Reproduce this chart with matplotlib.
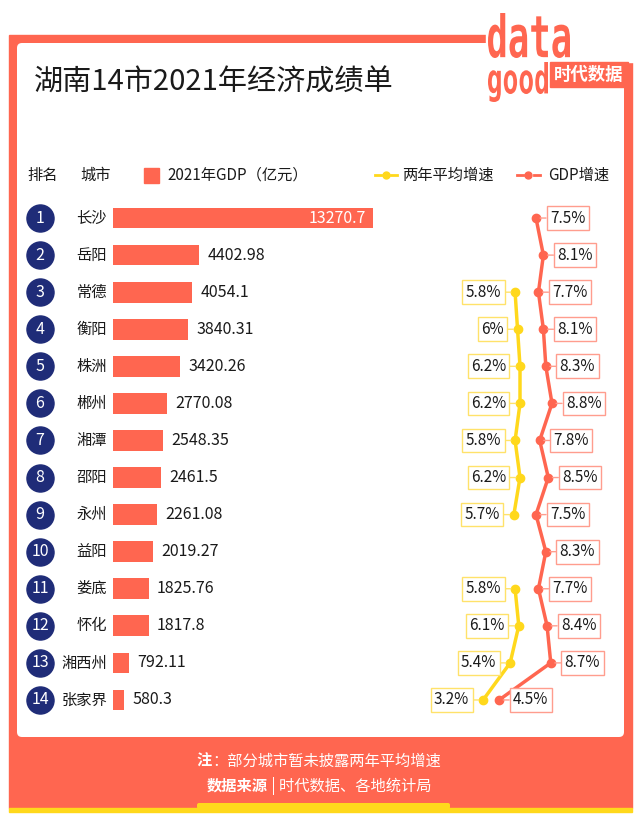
import numpy as np
import matplotlib
matplotlib.use('Agg')
import matplotlib.pyplot as plt
from matplotlib.patches import Rectangle, FancyBboxPatch, PathPatch
from matplotlib.textpath import TextPath
from matplotlib.font_manager import FontProperties
from matplotlib.transforms import Affine2D, blended_transform_factory

plt.rcParams['font.family'] = ['Noto Sans CJK SC', 'DejaVu Sans']

# data
ranks = list(range(1, 15))
cities = ['长沙', '岳阳', '常德', '衡阳', '株洲', '郴州', '湘潭',
          '邵阳', '永州', '益阳', '娄底', '怀化', '湘西州', '张家界']
gdp = [13270.7, 4402.98, 4054.1, 3840.31, 3420.26, 2770.08, 2548.35,
       2461.5, 2261.08, 2019.27, 1825.76, 1817.8, 792.11, 580.3]
gdp_growth = [7.5, 8.1, 7.7, 8.1, 8.3, 8.8, 7.8, 8.5, 7.5, 8.3, 7.7, 8.4, 8.7, 4.5]
avg_growth = [np.nan, np.nan, 5.8, 6.0, 6.2, 6.2, 5.8, 6.2, 5.7, np.nan, 5.8, 6.1, 5.4, 3.2]

ORANGE = '#ff6650'
ORANGE_LIGHT = '#ff9d8e'
YELLOW = '#ffd81c'
YELLOW_LIGHT = '#ffe26a'
NAVY = '#1f2c78'
INK = '#1a1a1a'

W, H = 640, 819
fig = plt.figure(figsize=(W / 100, H / 100), dpi=100)

# base axes in pixel units (y down) for frame and decorations
base = fig.add_axes([0, 0, 1, 1])
base.set_xlim(0, W)
base.set_ylim(H, 0)
base.axis('off')

base.add_patch(Rectangle((9, 35), 623, 773, color=ORANGE, zorder=0))
base.add_patch(FancyBboxPatch((17, 43), 607, 694, boxstyle='round,pad=0,rounding_size=5',
                              fc='white', ec='none', zorder=1))
base.add_patch(Rectangle((9, 808), 623, 4, color=YELLOW, zorder=1))
base.add_patch(FancyBboxPatch((197, 803), 253, 6, boxstyle='round,pad=0,rounding_size=2',
                              fc=YELLOW, ec='none', zorder=1))

# logo
base.add_patch(Rectangle((486, 0), 154, 62, color='white', zorder=2))


def fit_text(s, x0, y0, x1, y1, color):
    tp = TextPath((0, 0), s, size=1, prop=FontProperties(family='DejaVu Sans Mono', weight='bold'))
    ext = tp.get_extents()
    tr = (Affine2D().translate(-ext.x0, -ext.y1)
          .scale((x1 - x0) / ext.width, -(y1 - y0) / ext.height)
          .translate(x0, y0) + base.transData)
    base.add_patch(PathPatch(tp, transform=tr, fc=color, ec='none', zorder=3))


fit_text('data', 488, 13, 570, 58, ORANGE)
fit_text('good', 488, 62, 548, 102, ORANGE)
base.add_patch(Rectangle((550, 62), 78, 25, color=ORANGE, zorder=3))
base.text(589, 74.5, '时代数据', color='white', fontsize=12.5, weight='bold',
          ha='center', va='center', zorder=4)

# title
base.text(34, 83, '湖南14市2021年经济成绩单', fontsize=21, color=INK,
          va='center', zorder=4)

# header row
hy = 175
base.text(27, hy, '排名', fontsize=11, color=INK, va='center', zorder=4)
base.text(80, hy, '城市', fontsize=11, color=INK, va='center', zorder=4)
base.add_patch(Rectangle((144, 168), 15, 15, color=ORANGE, zorder=4))
base.text(167, hy, '2021年GDP（亿元）', fontsize=11, color=INK, va='center', zorder=4)
for (a, b, c), col in [((375, 386, 397), YELLOW), ((517, 528, 540), ORANGE)]:
    base.plot([a, a + 6], [hy, hy], color=col, lw=2, zorder=4)
    base.plot([c - 6, c], [hy, hy], color=col, lw=2, zorder=4)
    base.plot(b, hy, 'o', color=col, ms=5, zorder=4)
base.text(402, hy, '两年平均增速', fontsize=11, color=INK, va='center', zorder=4)
base.text(548, hy, 'GDP增速', fontsize=11, color=INK, va='center', zorder=4)

# footer
base.text(212, 761, '注', fontsize=11, weight='bold', color='white', ha='right', va='center', zorder=4)
base.text(212, 761, '：部分城市暂未披露两年平均增速', fontsize=11, color='white', va='center', zorder=4)
base.text(268, 786, '数据来源', fontsize=11, weight='bold', color='white', ha='right', va='center', zorder=4)
base.text(268, 786, ' | 时代数据、各地统计局', fontsize=11, color='white', va='center', zorder=4)

# bar chart
top, bottom = 199.5, 718.5
ypos = np.arange(len(cities))
ax = fig.add_axes([113 / W, 1 - bottom / H, 320 / W, (bottom - top) / H])
ax.patch.set_alpha(0)
ax.barh(ypos, gdp, height=0.56, color=ORANGE)
ax.set_xlim(0, 320 * 13270.7 / 260)
ax.set_ylim(len(cities) - 0.5, -0.5)
ax.axis('off')

for i, v in enumerate(gdp):
    if i == 0:
        ax.annotate(f'{v:g}', xy=(v, i), xytext=(-5, 0), textcoords='offset points',
                    ha='right', va='center', fontsize=11.5, color='white')
    else:
        ax.annotate(f'{v:g}', xy=(v, i), xytext=(6, 0), textcoords='offset points',
                    ha='left', va='center', fontsize=11.5, color=INK)

# rank circles and city names
trans = blended_transform_factory(base.transData, ax.transData)
base.scatter([40] * len(ranks), ypos, s=380, color=NAVY, transform=trans, zorder=4)
for i, (r, c) in enumerate(zip(ranks, cities)):
    base.text(40, i, str(r), transform=trans, fontsize=11.5, color='white',
              ha='center', va='center', zorder=5)
    base.text(107, i, c, transform=trans, fontsize=11, color=INK,
              ha='right', va='center', zorder=5)

# growth lines
lx = fig.add_axes([440 / W, 1 - bottom / H, 180 / W, (bottom - top) / H])
lx.patch.set_alpha(0)
lx.set_xlim(-0.305, 14.33)
lx.set_ylim(len(cities) - 0.5, -0.5)
lx.axis('off')
lx.plot(avg_growth, ypos, color=YELLOW, lw=2.5, marker='o', ms=6)
lx.plot(gdp_growth, ypos, color=ORANGE, lw=2.5, marker='o', ms=6)

for i, v in enumerate(gdp_growth):
    lx.annotate(f'{v:g}%', xy=(v, i), xytext=(10, 0), textcoords='offset points',
                ha='left', va='center', fontsize=11, color=INK,
                bbox=dict(boxstyle='square,pad=0.22', fc='white', ec=ORANGE_LIGHT, lw=1),
                arrowprops=dict(arrowstyle='-', color=ORANGE_LIGHT, lw=1, shrinkA=0, shrinkB=3))
for i, v in enumerate(avg_growth):
    if np.isnan(v):
        continue
    lx.annotate(f'{v:g}%', xy=(v, i), xytext=(-10, 0), textcoords='offset points',
                ha='right', va='center', fontsize=11, color=INK,
                bbox=dict(boxstyle='square,pad=0.22', fc='white', ec=YELLOW_LIGHT, lw=1),
                arrowprops=dict(arrowstyle='-', color=YELLOW_LIGHT, lw=1, shrinkA=0, shrinkB=3))

fig.savefig('out.png', dpi=100)
